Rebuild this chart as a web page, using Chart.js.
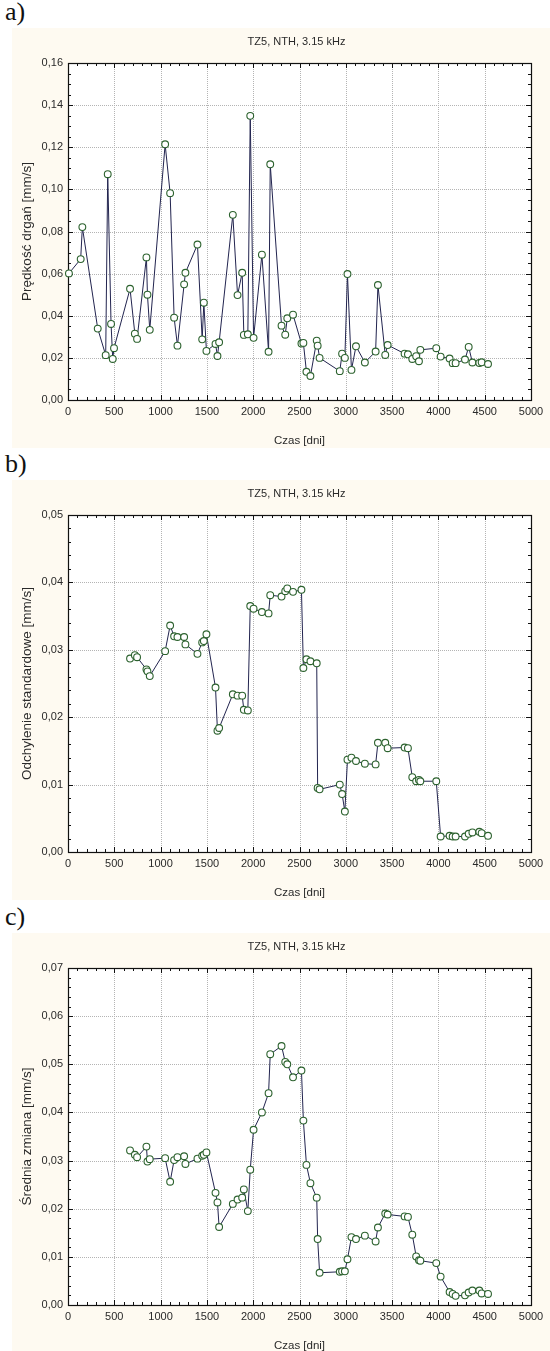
<!DOCTYPE html>
<html><head><meta charset="utf-8">
<script src="https://cdn.jsdelivr.net/npm/chart.js@4.4.1/dist/chart.umd.min.js"></script>
<style>
html,body{margin:0;padding:0;background:#fff;width:550px;height:1351px;overflow:hidden;}
.lbl{position:absolute;left:5px;font-family:"Liberation Serif","Times New Roman",serif;font-size:26px;color:#111;line-height:1;}
.wrap{position:absolute;left:12px;width:538px;height:420px;}
canvas{display:block}
</style></head><body>
<div class="lbl" style="top:-1px">a)</div>
<div class="wrap" style="top:28px"><canvas id="ca" width="538" height="420"></canvas></div>
<div class="lbl" style="top:451px">b)</div>
<div class="wrap" style="top:480px"><canvas id="cb" width="538" height="420"></canvas></div>
<div class="lbl" style="top:904px">c)</div>
<div class="wrap" style="top:933px"><canvas id="cc" width="538" height="420"></canvas></div>
<script>
// ---- data ----
const chartTitle = "TZ5, NTH, 3.15 kHz";
const xTitle = "Czas [dni]";
const xTicks = [0,500,1000,1500,2000,2500,3000,3500,4000,4500,5000];
const daysEarly = [10,137,155,321,407,429,465,483,497];
const daysCommon = [670,722,746,847,858,883,1049,1103,1146,1182,1254,1268,1398,1449,1467,1495,1593,1614,1632,1780,1831,1881,1899,1942,1968,2004,2094,2166,2184,2306,2346,2368,2430,2521,2542,2575,2618,2686,2696,2717,2935,2960,2990,3018,3061,3110,3206,3322,3347,3426,3452,3635,3671,3718,3760,3790,3805,3977,4024,4121,4154,4186,4287,4327,4367,4442,4467,4536];
const velocityEarly = [0.0601,0.0669,0.0821,0.0339,0.0213,0.1072,0.0361,0.0195,0.0246];
const velocityCommon = [0.0528,0.0315,0.0290,0.0677,0.0500,0.0333,0.1214,0.0982,0.0391,0.0258,0.0549,0.0604,0.0738,0.0288,0.0462,0.0233,0.0266,0.0209,0.0274,0.0879,0.0498,0.0604,0.0309,0.0312,0.1349,0.0295,0.0690,0.0229,0.1119,0.0353,0.0310,0.0388,0.0405,0.0268,0.0271,0.0134,0.0114,0.0282,0.0258,0.0200,0.0137,0.0220,0.0200,0.0598,0.0143,0.0255,0.0178,0.0230,0.0546,0.0214,0.0261,0.0220,0.0217,0.0195,0.0208,0.0184,0.0238,0.0246,0.0206,0.0197,0.0175,0.0175,0.0192,0.0252,0.0178,0.0176,0.0179,0.0171];
const stdDev = [0.0287,0.0292,0.0289,0.0271,0.0268,0.0261,0.0298,0.0336,0.0320,0.0319,0.0319,0.0308,0.0294,0.0311,0.0313,0.0323,0.0244,0.0180,0.0184,0.0234,0.0232,0.0232,0.0211,0.0210,0.0365,0.0361,0.0356,0.0354,0.0381,0.0379,0.0387,0.0391,0.0386,0.0389,0.0273,0.0286,0.0283,0.0280,0.0095,0.0093,0.0100,0.0086,0.0060,0.0137,0.0140,0.0135,0.0131,0.0130,0.0162,0.0162,0.0154,0.0155,0.0154,0.0111,0.0105,0.0107,0.0105,0.0105,0.0023,0.0024,0.0023,0.0023,0.0023,0.0027,0.0029,0.0030,0.0028,0.0024];
const meanChange = [0.0321,0.0312,0.0307,0.0329,0.0298,0.0303,0.0305,0.0256,0.0301,0.0307,0.0309,0.0293,0.0304,0.0310,0.0312,0.0317,0.0233,0.0213,0.0162,0.0210,0.0219,0.0223,0.0240,0.0195,0.0281,0.0364,0.0400,0.0440,0.0521,0.0538,0.0505,0.0500,0.0473,0.0487,0.0383,0.0291,0.0253,0.0223,0.0137,0.0067,0.0069,0.0070,0.0070,0.0095,0.0141,0.0137,0.0144,0.0132,0.0161,0.0190,0.0188,0.0184,0.0183,0.0146,0.0101,0.0093,0.0092,0.0087,0.0059,0.0027,0.0023,0.0019,0.0020,0.0026,0.0030,0.0030,0.0024,0.0023];
const yTicksA = [0,0.02,0.04,0.06,0.08,0.10,0.12,0.14,0.16];
const yTicksB = [0,0.01,0.02,0.03,0.04,0.05];
const yTicksC = [0,0.01,0.02,0.03,0.04,0.05,0.06,0.07];

// ---- drawing ----
const FONT = "'Liberation Sans', Arial, sans-serif";
Chart.defaults.font.family = FONT;

const framePlugin = {
  id: 'frame',
  beforeDraw(chart) {
    const ctx = chart.ctx, a = chart.chartArea;
    ctx.save();
    ctx.fillStyle = '#fefaf1';
    ctx.fillRect(0, 0, chart.width, chart.height);
    ctx.fillStyle = '#ffffff';
    ctx.fillRect(a.left, a.top, a.right - a.left, a.bottom - a.top);
    ctx.restore();
  },
  beforeDatasetsDraw(chart, args, opts) {
    const ctx = chart.ctx, a = chart.chartArea;
    const xs = chart.scales.x, ys = chart.scales.y;
    ctx.save();
    ctx.strokeStyle = '#b4b4b4';
    ctx.lineWidth = 1;
    ctx.setLineDash([1, 1]);
    ctx.beginPath();
    xTicks.forEach(v => {
      if (v <= xs.min || v >= xs.max) return;
      const p = Math.round(xs.getPixelForValue(v)) + 0.5;
      ctx.moveTo(p, a.top); ctx.lineTo(p, a.bottom);
    });
    opts.yTicks.forEach(v => {
      if (v <= ys.min + 1e-9 || v >= ys.max - 1e-9) return;
      const p = Math.round(ys.getPixelForValue(v)) + 0.5;
      ctx.moveTo(a.left, p); ctx.lineTo(a.right, p);
    });
    ctx.stroke();
    ctx.setLineDash([]);
    ctx.strokeStyle = '#111';
    ctx.beginPath();
    for (let k = 0; k <= 50; k++) {
      const v = k * 100;
      const len = (v % 500 === 0) ? 5 : 3;
      const p = Math.round(xs.getPixelForValue(v)) + 0.5;
      ctx.moveTo(p, a.bottom); ctx.lineTo(p, a.bottom - len);
      ctx.moveTo(p, a.top); ctx.lineTo(p, a.top + len);
    }
    const n = Math.round(ys.max / opts.yMinor);
    const per = Math.round(opts.yStep / opts.yMinor);
    for (let k = 0; k <= n; k++) {
      const v = k * opts.yMinor;
      const len = (k % per === 0) ? 5 : 3;
      const p = Math.round(ys.getPixelForValue(v)) + 0.5;
      ctx.moveTo(a.left, p); ctx.lineTo(a.left + len, p);
      ctx.moveTo(a.right, p); ctx.lineTo(a.right - len, p);
    }
    ctx.stroke();
    ctx.lineWidth = 1.2;
    ctx.strokeRect(Math.round(a.left) + 0.5, Math.round(a.top) + 0.5, Math.round(a.right - a.left), Math.round(a.bottom - a.top));
    ctx.restore();
  },
  afterDraw(chart) {
    const ctx = chart.ctx, a = chart.chartArea;
    ctx.save();
    ctx.fillStyle = '#2a2a2a';
    ctx.font = '11px ' + FONT;
    ctx.textAlign = 'center';
    ctx.textBaseline = 'middle';
    ctx.fillText(chartTitle, (a.left + a.right) / 2 - 3, a.top - 21);
    ctx.restore();
  }
};

function makeChart(id, days, values, yTicks, yMinor, yTitle) {
  const yStep = yTicks[1] - yTicks[0];
  const yMax = yTicks[yTicks.length - 1];
  return new Chart(document.getElementById(id), {
    type: 'line',
    data: {
      datasets: [{
        data: days.map((d, i) => ({ x: d, y: values[i] })),
        borderColor: '#22244f',
        borderWidth: 1,
        pointRadius: 3.4,
        pointBorderWidth: 1.1,
        pointBorderColor: '#2c622e',
        pointBackgroundColor: '#ffffff',
        tension: 0,
        clip: false
      }]
    },
    options: {
      responsive: false,
      animation: false,
      devicePixelRatio: 1,
      layout: { padding: { top: 35, right: 19, left: 0, bottom: 0 } },
      plugins: { legend: { display: false }, tooltip: { enabled: false }, title: { display: false }, frame: { yTicks, yMinor, yStep } },
      scales: {
        x: {
          type: 'linear', min: 0, max: 5000,
          afterBuildTicks: s => { s.ticks = xTicks.map(v => ({ value: v })); },
          ticks: { padding: 5, color: '#2a2a2a', font: { size: 11 }, maxRotation: 0, autoSkip: false, callback: v => String(v) },
          grid: { display: false, drawTicks: false },
          border: { display: false },
          title: { display: true, text: xTitle, color: '#2a2a2a', font: { size: 11.5 }, padding: { top: 7.1, bottom: 0 } },
          afterFit: s => { s.height = 48; }
        },
        y: {
          type: 'linear', min: 0, max: yMax,
          afterBuildTicks: s => { s.ticks = yTicks.map(v => ({ value: v })); },
          ticks: { padding: 5, color: '#2a2a2a', font: { size: 11 }, autoSkip: false, callback: v => v.toFixed(2).replace('.', ',') },
          grid: { display: false, drawTicks: false },
          border: { display: false },
          title: { display: true, text: yTitle, color: '#2a2a2a', font: { size: 13.5 }, padding: { top: 6.9, bottom: 0 } },
          afterFit: s => { s.width = 56; }
        }
      }
    },
    plugins: [framePlugin]
  });
}

makeChart('ca', daysEarly.concat(daysCommon), velocityEarly.concat(velocityCommon), yTicksA, 0.005, 'Prędkość drgań [mm/s]');
makeChart('cb', daysCommon, stdDev, yTicksB, 0.002, 'Odchylenie standardowe [mm/s]');
makeChart('cc', daysCommon, meanChange, yTicksC, 0.002, 'Średnia zmiana [mm/s]');
</script>
</body></html>
